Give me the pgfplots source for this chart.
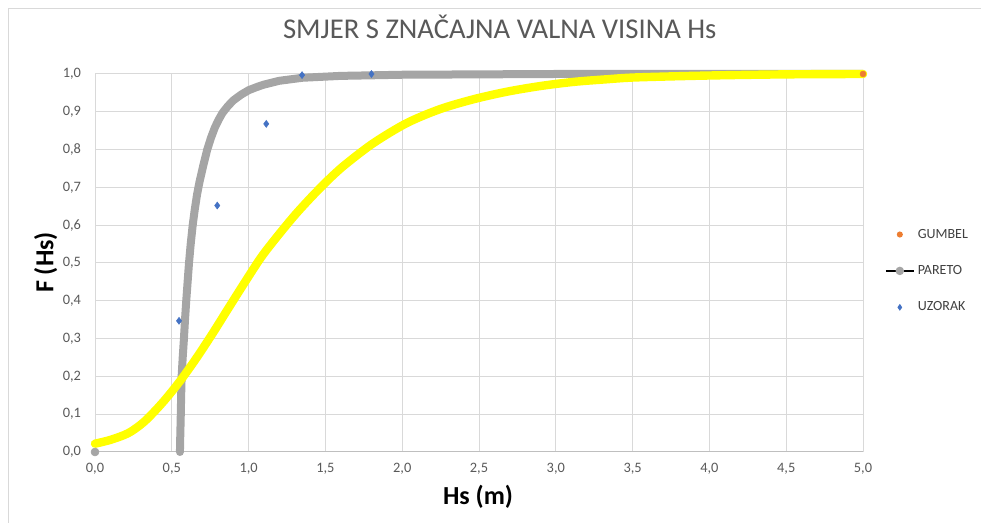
\documentclass[border=0pt]{standalone}
\usepackage{pgfplots}
\pgfplotsset{compat=1.18}
\usepackage{fontspec}
\setmainfont{Carlito}
\definecolor{gridc}{HTML}{D9D9D9}
\definecolor{axc}{HTML}{BFBFBF}
\definecolor{txtc}{HTML}{595959}
\definecolor{legc}{HTML}{404040}
\definecolor{paretogray}{HTML}{A5A5A5}
\definecolor{gumbelyel}{HTML}{FFFF00}
\definecolor{gumbelor}{HTML}{ED7D31}
\definecolor{uzorak}{HTML}{4472C4}
\begin{document}
\begin{tikzpicture}
\useasboundingbox (0pt,0pt) rectangle (735.75pt,392.25pt);
\draw[gridc, line width=0.75pt] (6.4pt,0pt) -- (6.4pt,385.5pt) -- (735.75pt,385.5pt);
\begin{axis}[
  at={(71.25pt,53.25pt)}, anchor=south west,
  width=576pt, height=283.5pt, scale only axis,
  xmin=0, xmax=5, ymin=0, ymax=1,
  clip=false,
  xtick={0,0.5,...,5}, ytick={0,0.1,...,1},
  major tick length=0pt,
  grid=major,
  major grid style={gridc, line width=0.75pt},
  axis line style={draw=none},
  /pgf/number format/.cd, use comma, fixed, fixed zerofill, precision=1, assume math mode=true,
  /pgfplots/.cd,
  ticklabel style={font=\fontsize{10.8}{12}\selectfont, text=txtc},
  xticklabel style={yshift=-5pt},
  yticklabel style={xshift=-7pt},
  title={SMJER S ZNAČAJNA VALNA VISINA Hs},
  title style={at={(0.527,1.0722)}, anchor=base, font=\fontsize{21.5}{24}\selectfont, text=txtc},
  xlabel={Hs (m)},
  xlabel style={at={(0.4987,-0.1402)}, anchor=base, font=\bfseries\fontsize{19.5}{22}\selectfont},
  ylabel={F (Hs)},
  ylabel style={at={(-0.0543,0.5013)}, anchor=base, font=\bfseries\fontsize{19.5}{22}\selectfont},
  legend style={at={(1.0286,0.479)}, anchor=west, draw=none, fill=none, inner sep=0pt,
    font=\fontsize{10.5}{12}\selectfont, text=legc, row sep=16pt, column sep=1pt,
    nodes={inner sep=1.5pt}},
  legend cell align=left,
]
\draw[axc, line width=0.75pt] (axis cs:0,0) -- (axis cs:5,0);
% PARETO
\addplot[paretogray, line width=6pt, line cap=round, line join=round, forget plot] coordinates {
(0.553,0) (0.555,0.04) (0.558,0.09) (0.561,0.15) (0.564,0.2) (0.571,0.25) (0.579,0.3)
(0.586,0.35) (0.594,0.4) (0.603,0.45) (0.612,0.5) (0.623,0.55) (0.636,0.6) (0.649,0.64)
(0.664,0.68) (0.68,0.714) (0.705,0.758) (0.73,0.799) (0.755,0.831) (0.78,0.858) (0.805,0.879)
(0.83,0.897) (0.865,0.915) (0.9,0.930) (0.95,0.945) (1.0,0.957) (1.05,0.965) (1.1,0.972)
(1.2,0.982) (1.35,0.990) (1.6,0.995) (2.0,0.998) (2.5,0.999) (3.0,1.0) (5,1.0)
};
\addplot[paretogray, only marks, mark=*, mark size=3pt, mark options={draw=none, fill=paretogray}, forget plot] coordinates {(0,0)};
% GUMBEL curve
\addplot[gumbelyel, line width=6.3pt, line cap=round, line join=round, smooth, tension=0.5, forget plot] coordinates {
(0,0.022) (0.1,0.032) (0.217,0.05) (0.32,0.08) (0.434,0.128) (0.543,0.182) (0.651,0.243)
(0.76,0.31) (0.868,0.38) (0.977,0.45) (1.085,0.517) (1.194,0.574) (1.302,0.627) (1.41,0.675)
(1.519,0.72) (1.628,0.76) (1.812,0.817) (2.029,0.870) (2.246,0.907) (2.463,0.933) (2.68,0.953)
(2.897,0.968) (3.114,0.979) (3.331,0.986) (3.527,0.991) (4.0,0.996) (4.5,0.999) (5,1.0)
};
% UZORAK
\addplot[uzorak, only marks, mark=diamond*, mark size=2.6pt, mark options={draw=none, fill=uzorak}, forget plot] coordinates {
(0.547,0.347) (0.796,0.652) (1.115,0.868) (1.348,0.997) (1.80,1.0)
};
% GUMBEL point
\addplot[gumbelor, only marks, mark=*, mark size=2.2pt, mark options={draw=none, fill=gumbelor}, forget plot] coordinates {(5,1)};
\addlegendimage{legend image code/.code={\path[draw=none,fill=none] (0pt,0pt) -- (21pt,0pt); \fill[gumbelor,draw=none] (10.5pt,0pt) circle (2.3pt);}}
\addlegendentry{GUMBEL}
\addlegendimage{legend image code/.code={\path[draw=none,fill=none] (0pt,0pt) -- (21pt,0pt); \draw[black, line width=0.9pt] (0pt,0pt) -- (21pt,0pt); \fill[paretogray,draw=none] (10.5pt,0pt) circle (3.2pt);}}
\addlegendentry{PARETO}
\addlegendimage{legend image code/.code={\path[draw=none,fill=none] (0pt,0pt) -- (21pt,0pt); \fill[uzorak,draw=none] (10.5pt,2.6pt) -- (12.3pt,0pt) -- (10.5pt,-2.6pt) -- (8.7pt,0pt) -- cycle;}}
\addlegendentry{UZORAK}
\end{axis}
\end{tikzpicture}
\end{document}
